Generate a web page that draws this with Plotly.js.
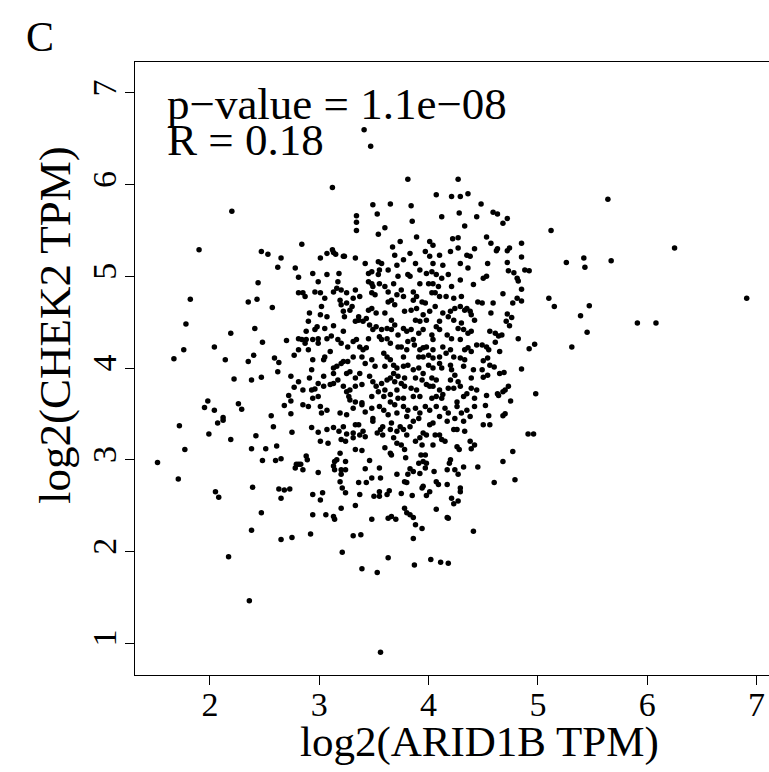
<!DOCTYPE html>
<html>
<head>
<meta charset="utf-8">
<script src="https://cdn.plot.ly/plotly-3.0.1.min.js"></script>
<style>html,body{margin:0;padding:0;background:#fff;}</style>
</head>
<body>
<div id="chart" style="width:769px;height:772px;"></div>
<script>
// Each pair: [log2(ARID1B TPM), log2(CHEK2 TPM)]
const topPoints = [[2.20,5.71],[3.41,6.60],[3.47,6.42],[3.12,5.97],[3.81,6.06],[3.49,5.78],[3.65,5.79],[3.84,5.77],[3.53,5.68],[3.34,5.66],[3.34,5.59],[3.34,5.50],[3.85,5.60],[3.60,5.53],[3.54,5.46],[3.89,5.43],[2.84,5.35],[3.12,5.29],[3.67,5.32],[3.74,5.38],[4.27,6.06],[4.07,5.89],[4.21,5.87],[4.29,5.87],[4.36,5.90],[4.48,5.79],[4.12,5.65],[4.28,5.69],[4.44,5.65],[4.59,5.70],[4.63,5.68],[4.72,5.63],[4.33,5.55],[4.68,5.58],[5.12,5.50],[4.22,5.41],[4.27,5.42],[4.53,5.43],[4.57,5.36],[4.85,5.36],[4.01,5.38],[4.04,5.34],[4.74,5.31],[4.42,5.30],[4.27,5.31],[4.63,5.30],[5.64,5.84],[6.25,5.31]];
const rightMidPoints = [[4.62,5.28],[4.72,5.28],[4.85,5.21],[4.54,5.14],[4.72,5.15],[5.26,5.15],[5.42,5.20],[5.43,5.10],[5.67,5.17],[4.73,5.06],[4.78,5.04],[4.88,5.07],[4.92,5.06],[4.81,4.98],[4.82,4.95],[4.50,4.98],[4.53,5.00],[4.85,4.86],[4.68,4.81],[4.81,4.76],[4.85,4.73],[4.77,4.71],[5.10,4.76],[5.15,4.67],[5.47,4.68],[6.91,4.76],[4.49,4.71],[4.59,4.71],[4.57,4.60],[4.72,4.59],[4.76,4.55],[4.71,4.51],[4.74,4.46],[5.39,4.57],[5.91,4.49],[6.08,4.49],[5.45,4.39],[4.56,4.40],[4.61,4.38],[4.64,4.35],[4.67,4.36],[4.61,4.28],[4.49,4.25],[4.53,4.23],[4.55,4.20],[4.65,4.18],[4.82,4.32],[4.92,4.21],[4.97,4.26],[5.31,4.23],[4.54,4.11],[4.50,4.08],[4.56,4.03],[4.60,4.01],[4.85,3.99],[4.49,3.98],[4.50,3.90],[4.54,3.92],[4.65,3.94],[4.69,3.95],[4.73,3.80],[4.70,3.76],[4.68,3.74],[4.63,3.72],[4.64,3.70],[4.98,3.72],[4.75,3.64],[4.53,3.70],[4.52,3.59],[4.55,3.48],[4.68,3.48],[4.70,3.50]];
const rightLowPoints = [[4.50,3.38],[4.56,3.38],[4.91,3.28],[4.96,3.28],[4.77,3.09],[4.68,2.98],[4.60,2.75],[4.79,2.78]];
const leftLowPoints = [[1.72,3.37],[2.07,3.40],[2.12,3.43],[1.99,3.28],[2.58,3.36],[2.75,3.30],[2.42,3.26],[2.19,3.22],[1.77,3.11],[1.52,2.97],[2.38,3.12],[2.51,3.12],[2.61,3.15],[2.48,2.99],[2.60,2.99],[2.65,3.01],[2.79,2.95],[2.81,2.95],[2.78,2.91],[1.71,2.79],[2.05,2.65],[2.08,2.59],[2.39,2.70],[2.63,2.68],[2.68,2.67],[2.73,2.68],[2.65,2.58],[2.47,2.42],[2.38,2.23],[2.65,2.13],[2.75,2.15],[2.17,1.94],[2.36,1.46]];
const leftMidPoints = [[1.90,5.29],[2.47,5.27],[2.53,5.24],[2.65,5.20],[2.62,5.10],[2.78,5.09],[2.81,4.99],[2.44,4.93],[2.81,4.82],[1.82,4.75],[2.35,4.72],[2.43,4.75],[2.57,4.66],[1.78,4.48],[2.19,4.38],[2.41,4.43],[2.48,4.28],[2.70,4.30],[2.81,4.32],[1.76,4.20],[1.67,4.10],[2.04,4.23],[2.14,4.09],[2.35,4.07],[2.40,4.14],[2.59,4.11],[2.63,4.06],[2.62,3.96],[2.77,4.14],[2.81,4.20],[2.22,3.88],[2.38,3.87],[2.47,3.90],[2.74,3.91],[2.81,3.85],[2.77,3.79],[2.72,3.70],[2.74,3.64],[2.68,3.59],[1.98,3.64],[1.95,3.57],[2.04,3.54],[2.26,3.61],[2.29,3.55],[2.12,3.46],[2.56,3.48],[2.74,3.50]];
const coreLowLeftPoints = [[2.93,3.35],[2.99,3.30],[3.01,3.20],[3.07,3.33],[3.08,3.18],[3.13,3.35],[3.18,3.31],[3.20,3.22],[3.22,3.36],[3.25,3.28],[3.24,3.20],[3.31,3.29],[3.31,3.24],[3.33,3.38],[3.36,3.38],[3.37,3.27],[3.40,3.31],[3.42,3.25],[3.49,3.42],[3.53,3.29],[3.56,3.33],[3.58,3.27],[3.58,3.36],[3.65,3.33],[3.68,3.24],[3.71,3.31],[3.71,3.18],[3.66,3.40],[3.74,3.36],[3.33,3.11],[3.39,3.10],[3.19,3.07],[3.14,2.98],[3.13,2.93],[3.16,3.00],[3.14,2.89],[3.20,2.89],[3.24,2.98],[3.24,2.89],[3.20,2.84],[2.88,3.04],[2.89,3.00],[2.85,2.89],[2.83,2.95],[2.99,2.86],[3.46,2.99],[3.42,2.90],[3.55,2.91],[3.48,2.80],[3.56,2.80],[3.71,2.84],[3.60,3.13],[3.65,3.07],[3.66,3.05],[3.19,2.76],[3.21,2.69],[3.24,2.64],[3.36,2.75],[3.43,2.75],[3.37,2.62],[3.50,2.60],[3.55,2.60],[3.55,2.65],[3.62,2.62],[3.64,2.66],[2.94,2.62],[3.03,2.64],[3.01,2.56],[3.20,2.47],[3.33,2.50],[2.94,2.40],[3.06,2.40],[3.13,2.38],[3.14,2.35],[3.48,2.35],[3.63,2.36],[3.66,2.38],[3.70,2.35],[2.92,2.19],[3.31,2.17],[3.38,2.18],[3.21,1.99],[3.63,1.93],[3.39,1.81],[3.53,1.77],[3.56,0.90]];
const coreLowRightPoints = [[3.86,3.42],[3.83,3.36],[3.77,3.33],[3.80,3.27],[3.75,3.16],[3.78,3.11],[3.79,3.02],[3.88,3.20],[3.92,3.24],[3.94,3.16],[3.95,3.29],[3.98,3.27],[4.01,3.38],[4.04,3.40],[4.06,3.27],[4.04,3.16],[4.10,3.27],[4.12,3.22],[4.15,3.20],[4.17,3.42],[4.23,3.33],[4.26,3.33],[4.32,3.42],[4.33,3.31],[4.38,3.20],[4.39,3.12],[4.42,3.16],[4.26,3.14],[4.28,3.11],[3.93,3.05],[3.97,3.05],[3.91,2.96],[3.95,2.98],[3.98,2.96],[3.83,2.90],[3.86,2.87],[3.81,2.84],[3.78,2.76],[3.80,2.75],[3.92,2.85],[3.97,2.91],[4.05,2.87],[4.07,2.76],[4.09,2.73],[4.17,2.89],[4.20,3.00],[4.19,2.96],[4.24,2.89],[4.27,2.84],[4.32,2.92],[4.45,2.92],[4.17,2.73],[4.29,2.69],[4.29,2.65],[3.95,2.71],[3.94,2.69],[4.01,2.65],[3.98,2.61],[3.75,2.63],[3.85,2.61],[4.21,2.58],[4.23,2.52],[4.27,2.55],[3.78,2.47],[3.80,2.42],[3.83,2.40],[3.86,2.37],[4.07,2.46],[4.17,2.37],[4.18,2.36],[3.88,2.29],[3.94,2.25],[3.86,2.14],[4.41,2.22],[3.87,1.85],[4.02,1.91],[4.11,1.88],[4.18,1.87]];
const coreMidLeftPoints = [[3.07,5.25],[3.13,5.26],[3.15,5.24],[3.22,5.22],[3.23,5.22],[3.33,5.20],[3.42,5.14],[3.54,5.16],[3.57,5.14],[3.69,5.23],[3.01,5.20],[2.94,5.03],[3.07,5.02],[3.18,5.03],[2.99,4.94],[3.17,4.94],[3.45,5.03],[3.48,5.05],[3.55,5.07],[3.54,5.02],[3.63,5.07],[3.71,5.12],[3.72,5.00],[2.85,4.82],[2.87,4.78],[2.96,4.83],[3.01,4.82],[3.05,4.76],[3.13,4.83],[3.16,4.87],[3.20,4.85],[3.25,4.82],[3.33,4.85],[3.31,4.76],[3.37,4.78],[3.45,4.94],[3.48,4.92],[3.49,4.89],[3.55,4.92],[3.60,4.89],[3.63,4.83],[3.68,4.92],[3.48,4.82],[3.51,4.80],[2.91,4.60],[3.01,4.58],[3.07,4.56],[3.02,4.67],[3.19,4.74],[3.20,4.69],[3.25,4.71],[3.22,4.62],[3.28,4.63],[3.30,4.67],[3.23,4.56],[3.36,4.56],[3.45,4.63],[3.48,4.65],[3.52,4.60],[3.60,4.60],[3.63,4.72],[3.66,4.74],[3.69,4.69],[3.71,4.80],[3.66,4.52],[2.90,4.51],[2.98,4.45],[2.96,4.42],[2.88,4.40],[3.05,4.43],[3.13,4.46],[3.22,4.40],[3.33,4.51],[3.36,4.52],[3.40,4.51],[3.43,4.54],[3.46,4.47],[3.49,4.42],[3.57,4.42],[3.62,4.43],[3.66,4.42],[3.69,4.47],[3.52,4.45],[2.84,4.31],[2.87,4.27],[2.90,4.20],[2.94,4.31],[2.99,4.32],[3.07,4.32],[3.11,4.35],[3.17,4.31],[3.20,4.27],[3.26,4.23],[3.31,4.29],[3.34,4.31],[3.37,4.23],[3.40,4.20],[3.43,4.22],[3.45,4.32],[3.55,4.34],[3.57,4.31],[3.62,4.32],[3.65,4.27],[3.72,4.36],[3.72,4.23],[2.88,4.31],[2.99,4.27],[2.94,4.09],[3.05,4.12],[3.10,4.18],[3.04,4.09],[3.20,4.05],[3.22,4.07],[3.26,4.07],[3.13,4.00],[3.16,4.02],[3.31,4.12],[3.39,4.12],[3.42,4.05],[3.48,4.09],[3.51,4.02],[3.59,4.16],[3.62,4.12],[3.65,4.09],[3.68,4.03],[3.71,4.00],[3.60,4.02],[2.93,3.98],[2.91,3.89],[3.04,3.91],[3.13,3.94],[3.17,3.87],[3.25,3.94],[3.28,3.96],[3.33,3.89],[3.37,3.94],[3.46,3.91],[3.49,3.85],[3.52,3.80],[3.57,3.83],[3.62,3.87],[3.65,3.89],[3.68,3.94],[3.69,3.85],[3.72,3.91],[3.60,3.76],[2.99,3.83],[2.85,3.76],[2.93,3.76],[2.96,3.77],[3.04,3.80],[3.10,3.82],[3.13,3.83],[3.22,3.80],[3.25,3.74],[3.28,3.76],[3.33,3.80],[3.39,3.82],[3.27,3.69],[3.28,3.65],[3.33,3.63],[3.39,3.62],[3.48,3.69],[3.54,3.74],[3.59,3.69],[3.65,3.71],[3.71,3.76],[3.72,3.67],[2.99,3.69],[2.94,3.67],[2.85,3.60],[2.90,3.58],[3.01,3.58],[3.02,3.51],[3.07,3.54],[3.19,3.51],[3.25,3.49],[3.31,3.56],[3.39,3.60],[3.42,3.52],[3.48,3.56],[3.55,3.58],[3.59,3.54],[3.63,3.49],[3.65,3.63],[3.69,3.60],[3.71,3.51],[3.49,3.45]];
const coreMidRightPoints = [[3.77,5.18],[3.83,5.25],[3.88,5.14],[3.97,5.27],[4.01,5.22],[4.10,5.23],[4.20,5.27],[4.35,5.23],[4.38,5.22],[4.29,5.14],[4.13,5.12],[4.04,5.14],[3.81,5.02],[3.83,5.00],[3.92,5.07],[3.98,5.03],[4.03,5.05],[4.07,5.02],[4.12,4.98],[4.18,5.02],[4.21,4.89],[4.29,4.96],[4.41,4.91],[3.92,4.92],[4.00,4.92],[4.04,4.92],[4.09,4.89],[4.36,5.09],[3.75,4.85],[3.77,4.78],[3.86,4.74],[3.89,4.78],[3.94,4.72],[3.97,4.71],[4.03,4.82],[4.06,4.82],[4.10,4.78],[4.16,4.78],[4.23,4.76],[4.30,4.78],[4.45,4.72],[4.35,4.65],[3.86,4.83],[3.78,4.62],[3.84,4.63],[3.89,4.65],[3.95,4.58],[4.01,4.62],[4.06,4.67],[4.13,4.60],[4.20,4.62],[4.24,4.65],[4.29,4.67],[4.33,4.63],[4.38,4.62],[4.39,4.58],[3.88,4.52],[3.92,4.51],[3.98,4.52],[4.10,4.51],[4.18,4.56],[4.23,4.52],[4.30,4.49],[4.42,4.52],[4.07,4.45],[3.77,4.43],[3.80,4.40],[3.84,4.42],[3.91,4.38],[3.95,4.42],[4.03,4.36],[4.10,4.42],[4.17,4.36],[4.21,4.32],[4.27,4.43],[4.32,4.42],[4.36,4.38],[4.39,4.40],[4.29,4.31],[3.86,4.31],[3.81,4.29],[4.04,4.31],[3.75,4.23],[3.80,4.20],[3.87,4.25],[3.92,4.20],[3.95,4.22],[3.98,4.23],[4.04,4.20],[4.13,4.23],[4.20,4.20],[4.33,4.20],[4.36,4.22],[4.39,4.18],[4.44,4.25],[3.91,4.12],[3.95,4.12],[4.00,4.14],[4.04,4.11],[4.10,4.12],[4.16,4.16],[4.23,4.12],[4.29,4.11],[4.33,4.09],[3.77,4.12],[3.77,4.02],[3.81,4.03],[3.86,3.98],[3.91,4.00],[3.95,3.94],[4.00,4.03],[4.04,4.00],[4.10,4.05],[4.12,4.00],[4.20,4.03],[4.21,3.98],[4.24,3.92],[4.32,4.02],[4.41,3.98],[3.78,3.89],[3.88,3.89],[3.94,3.87],[4.03,3.89],[4.07,3.87],[4.20,3.87],[4.27,3.85],[4.39,3.89],[3.75,3.83],[3.78,3.80],[3.84,3.78],[3.89,3.76],[3.92,3.69],[3.98,3.82],[4.01,3.80],[4.04,3.80],[4.10,3.76],[4.13,3.71],[4.18,3.78],[4.23,3.78],[4.29,3.80],[4.35,3.72],[4.39,3.78],[4.44,3.76],[3.77,3.67],[3.86,3.69],[4.03,3.67],[4.07,3.69],[4.12,3.67],[4.32,3.69],[4.26,3.63],[4.42,3.67],[3.77,3.58],[3.81,3.54],[3.88,3.56],[3.92,3.51],[3.97,3.58],[4.01,3.54],[4.07,3.58],[4.15,3.56],[4.18,3.51],[4.26,3.58],[4.30,3.51],[4.35,3.54],[4.38,3.47],[4.42,3.58],[3.80,3.47],[3.91,3.45],[4.10,3.47],[4.24,3.45]];

const allPoints = [].concat(topPoints, rightMidPoints, rightLowPoints, leftLowPoints, leftMidPoints,
  coreLowLeftPoints, coreLowRightPoints, coreMidLeftPoints, coreMidRightPoints);
const arid1b = allPoints.map(p => p[0]);
const chek2 = allPoints.map(p => p[1]);

const xTicks = [2, 3, 4, 5, 6, 7];
const yTicks = [1, 2, 3, 4, 5, 6, 7];
const xTitle = 'log2(ARID1B TPM)';
const yTitle = 'log2(CHEK2 TPM)';
const panelLabel = 'C';
const statLines = ['p\u2212value = 1.1e\u221208', 'R = 0.18'];

const serif = 'Liberation Serif, Times New Roman, serif';

const trace = {
  type: 'scatter', mode: 'markers', x: arid1b, y: chek2,
  marker: {color: '#000', size: 5.5, line: {width: 0}},
  hoverinfo: 'skip', showlegend: false
};

const layout = {
  width: 769, height: 772,
  margin: {l: 135, r: 0, t: 62, b: 97},
  paper_bgcolor: '#fff', plot_bgcolor: '#fff',
  showlegend: false,
  xaxis: {
    range: [1.314, 7.114], tickvals: xTicks, ticktext: xTicks.map(String),
    ticks: 'outside', ticklen: 9, tickwidth: 1, tickcolor: '#000',
    ticklabelstandoff: -10,
    showline: true, mirror: true, linecolor: '#000', linewidth: 1.2,
    showgrid: false, zeroline: false,
    tickfont: {family: serif, size: 34, color: '#000'}
  },
  yaxis: {
    range: [0.651, 7.338], tickvals: yTicks, ticktext: yTicks.map(String),
    ticks: 'outside', ticklen: 9, tickwidth: 1, tickcolor: '#000', tickangle: -90,
    ticklabelstandoff: -5,
    showline: true, mirror: false, linecolor: '#000', linewidth: 1.2,
    showgrid: false, zeroline: false,
    tickfont: {family: serif, size: 34, color: '#000'}
  },
  annotations: [
    {text: xTitle, xref: 'paper', yref: 'paper', x: 0.544, y: -0.110, xanchor: 'center', yanchor: 'middle',
     showarrow: false, font: {family: serif, size: 43, color: '#000'}},
    {text: yTitle, xref: 'paper', yref: 'paper', x: -0.126, y: 0.571, xanchor: 'center', yanchor: 'middle',
     textangle: -90, showarrow: false, font: {family: serif, size: 45, color: '#000'}},
    {text: panelLabel, xref: 'paper', yref: 'paper', x: -0.150, y: 1.041, xanchor: 'center', yanchor: 'middle',
     showarrow: false, font: {family: serif, size: 42, color: '#000'}},
    {text: statLines[0], xref: 'paper', yref: 'paper', x: 0.047, y: 0.931, xanchor: 'left', yanchor: 'middle',
     showarrow: false, font: {family: serif, size: 45, color: '#000'}},
    {text: statLines[1], xref: 'paper', yref: 'paper', x: 0.047, y: 0.872, xanchor: 'left', yanchor: 'middle',
     showarrow: false, font: {family: serif, size: 45, color: '#000'}}
  ]
};

Plotly.newPlot('chart', [trace], layout, {displayModeBar: false, staticPlot: true});
</script>
</body>
</html>
